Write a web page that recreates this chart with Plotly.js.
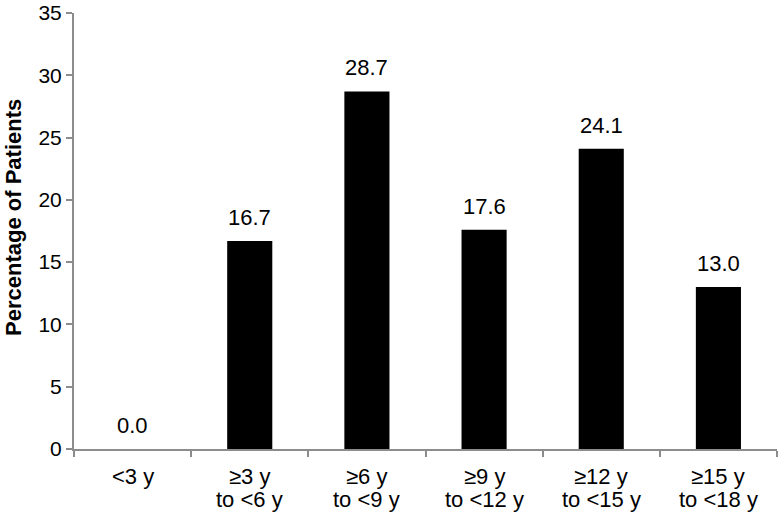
<!DOCTYPE html>
<html>
<head>
<meta charset="utf-8">
<script src="https://cdn.plot.ly/plotly-3.0.1.min.js"></script>
<style>html,body{margin:0;padding:0;background:#fff;}</style>
</head>
<body>
<div id="chart" style="width:778px;height:514px;"></div>
<script>
const categories = ["<3 y", "≥3 y to <6 y", "≥6 y to <9 y", "≥9 y to <12 y", "≥12 y to <15 y", "≥15 y to <18 y"];
const labelLine1 = ["<3 y", "≥3 y", "≥6 y", "≥9 y", "≥12 y", "≥15 y"];
const labelLine2 = ["", "to <6 y", "to <9 y", "to <12 y", "to <15 y", "to <18 y"];
const percentages = [0.0, 16.7, 28.7, 17.6, 24.1, 13.0];
const yTickValues = [0, 5, 10, 15, 20, 25, 30, 35];
const yTitle = "Percentage of Patients";

const FONT = "Liberation Sans, Arial, Helvetica, sans-serif";

const trace = {
  type: "bar",
  x: categories,
  y: percentages,
  marker: {color: "#000000"},
  width: 0.385,
  hoverinfo: "skip"
};

const annotations = [];
categories.forEach((c, i) => {
  annotations.push({
    x: c, y: percentages[i], xref: "x", yref: "y",
    text: percentages[i].toFixed(1),
    showarrow: false, xanchor: "center", yanchor: "bottom",
    yshift: 9,
    font: {family: FONT, size: 22, color: "#000"}
  });
  annotations.push({
    x: c, y: 0, xref: "x", yref: "paper",
    text: labelLine1[i],
    showarrow: false, xanchor: "center", yanchor: "middle",
    yshift: -27,
    font: {family: FONT, size: 22, color: "#000"}
  });
  if (labelLine2[i]) {
    annotations.push({
      x: c, y: 0, xref: "x", yref: "paper",
      text: labelLine2[i],
      showarrow: false, xanchor: "center", yanchor: "middle",
      yshift: -50,
      font: {family: FONT, size: 22, color: "#000"}
    });
  }
});
annotations.push({
  x: 0, y: 0.53, xref: "paper", yref: "paper",
  xshift: -60,
  text: "<b>" + yTitle + "</b>",
  textangle: -90,
  showarrow: false, xanchor: "center", yanchor: "middle",
  font: {family: FONT, size: 22, color: "#000"}
});

const layout = {
  width: 778,
  height: 514,
  margin: {l: 74, r: 1, t: 13, b: 65},
  paper_bgcolor: "#fff",
  plot_bgcolor: "#fff",
  showlegend: false,
  font: {family: FONT, size: 22, color: "#000"},
  xaxis: {
    type: "category",
    showline: true,
    linecolor: "#8c8c8c",
    linewidth: 2,
    showgrid: false,
    zeroline: false,
    ticks: "outside",
    tickson: "boundaries",
    ticklen: 6,
    tickwidth: 2,
    tickcolor: "#8c8c8c",
    showticklabels: false,
    fixedrange: true
  },
  yaxis: {
    range: [0, 35],
    tickvals: yTickValues,
    showline: true,
    linecolor: "#8c8c8c",
    linewidth: 2,
    showgrid: false,
    zeroline: false,
    ticks: "outside",
    ticklen: 6,
    tickwidth: 2,
    tickcolor: "#8c8c8c",
    ticklabeloverflow: "allow",
    tickfont: {family: FONT, size: 21, color: "#000"},
    fixedrange: true
  },
  annotations: annotations
};

Plotly.newPlot("chart", [trace], layout, {displayModeBar: false, staticPlot: true});
</script>
</body>
</html>
